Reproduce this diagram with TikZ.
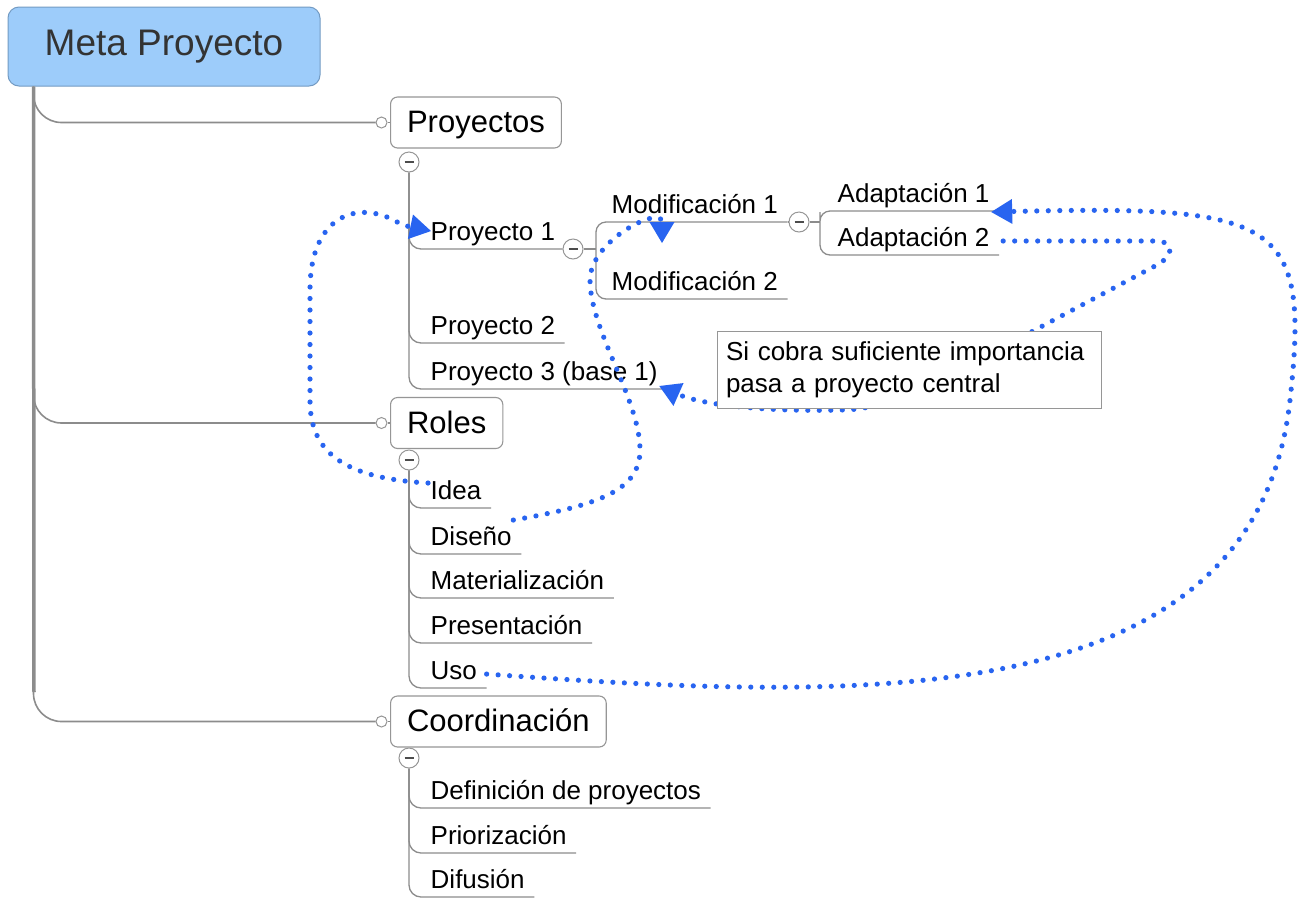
\documentclass[tikz,border=0pt]{standalone}
\usepackage{fontspec}
\setmainfont{Liberation Sans}
\usetikzlibrary{arrows.meta,calc}
\definecolor{linegray}{RGB}{140,140,140}
\definecolor{boxgray}{RGB}{150,150,150}
\definecolor{rootfill}{RGB}{157,204,250}
\definecolor{rootdraw}{RGB}{115,155,195}
\definecolor{dotblue}{RGB}{40,100,240}
\begin{document}
\begin{tikzpicture}[x=1pt,y=-1pt,
  trunk/.style={draw=linegray, line width=3.5pt},
  branch/.style={draw=linegray, line width=1.6pt, rounded corners=28pt},
  tree/.style={draw=linegray, line width=1.3pt, rounded corners=12pt},
  rootbox/.style={draw=rootdraw, fill=rootfill, line width=1pt, rounded corners=11pt, minimum width=312pt, minimum height=79pt, font=\fontsize{37}{40}\selectfont, text=black!80},
  topicbox/.style={draw=boxgray, fill=white, line width=1.1pt, rounded corners=7pt, minimum height=51pt, inner xsep=16.5pt, inner ysep=0pt, text height=23pt, text depth=3pt, font=\fontsize{31}{34}\selectfont},
  item/.style={inner xsep=9.5pt, inner ysep=0pt, text height=19pt, text depth=8.5pt, font=\fontsize{26}{30}\selectfont, anchor=south west},
  knob/.style={circle, draw=boxgray, fill=white, line width=1pt, minimum size=11pt, inner sep=0pt},
  fold/.style={circle, draw=boxgray, fill=white, line width=1pt, minimum size=20pt, inner sep=0pt, path picture={\draw[line width=1.3pt, black!70] ([xshift=-4.5pt]path picture bounding box.center) -- ([xshift=4.5pt]path picture bounding box.center);}},
  conn/.style={draw=dotblue, line width=5.2pt, line cap=round, dash pattern=on 0pt off 11.5pt},
  tip/.style={-{Triangle[length=21pt,width=25pt,line width=0pt]}},
  note/.style={draw=boxgray, fill=white, line width=1pt, minimum width=384pt, minimum height=77pt, align=left, text width=366pt, inner xsep=9pt, font=\fontsize{26}{32}\selectfont}
]
\useasboundingbox (0,0) rectangle (1308,898);
\fill[white] (0,0) rectangle (1308,898);

% root
\node[rootbox] (root) at (164,46.5) {Meta Proyecto};
\coordinate (tr) at ([xshift=26pt]root.south west);

% topics
\node[topicbox, anchor=west] (proy) at (390,122.5) {Proyectos};
\node[topicbox, anchor=west] (roles) at (390,423) {Roles};
\node[topicbox, anchor=west] (coord) at (390,721.5) {Coordinación};

\node[knob] (kp) at (381.5,122.5) {};
\node[knob] (kr) at (381.5,423) {};
\node[knob] (kc) at (381.5,721.5) {};

% trunk and branches
\draw[branch] (tr) |- (kp.west);
\draw[branch] (tr) |- (kr.west);
\draw[branch] (tr) |- (kc.west);
\draw[trunk] (tr) -- (34,692);
\draw[draw=linegray, line width=1.3pt] (kp.east) -- (proy.west);
\draw[draw=linegray, line width=1.3pt] (kr.east) -- (roles.west);
\draw[draw=linegray, line width=1.3pt] (kc.east) -- (coord.west);

% items
\node[item] (p1) at (421,249) {Proyecto 1};
\node[item] (p2) at (421,343) {Proyecto 2};
\node[item] (p3) at (421,389) {Proyecto 3 (base 1)};
\node[item] (m1) at (602,222) {Modificación 1};
\node[item] (m2) at (602,299) {Modificación 2};
\node[item] (a1) at (828,211) {Adaptación 1};
\node[item] (a2) at (828,255) {Adaptación 2};
\node[item] (idea) at (421,508) {Idea};
\node[item] (dis) at (421,554) {Diseño};
\node[item] (mat) at (421,598) {Materialización};
\node[item] (pres) at (421,643) {Presentación};
\node[item] (uso) at (421,688) {Uso};
\node[item] (def) at (421,808) {Definición de proyectos};
\node[item] (pri) at (421,853) {Priorización};
\node[item] (dif) at (421,897) {Difusión};

% fold buttons
\node[fold] (fp) at (409,162) {};
\node[fold] (fr) at (409,460) {};
\node[fold] (fc) at (409,758) {};
\node[fold] (cm) at (573,249) {};
\node[fold] (ca) at (799,222) {};

% tree lines
\draw[tree] (fp.south) |- (p1.south east) -- (cm.west);
\draw[tree] (fp.south) |- (p2.south east);
\draw[tree] (fp.south) |- (p3.south east);
\coordinate (mb) at (596,249);
\draw[tree] (cm.east) -- (mb);
\draw[tree, rounded corners=10pt] (m1.south east) -| (mb) |- (m2.south east);
\draw[tree] (m1.south east) -- (ca.west);
\coordinate (ab) at (820,222);
\draw[tree] (ca.east) -- (ab);
\draw[tree, rounded corners=10pt] (a1.south east) -| (ab) |- (a2.south east);
\draw[tree] (fr.south) |- (idea.south east);
\draw[tree] (fr.south) |- (dis.south east);
\draw[tree] (fr.south) |- (mat.south east);
\draw[tree] (fr.south) |- (pres.south east);
\draw[tree] (fr.south) |- (uso.south east);
\draw[tree] (fc.south) |- (def.south east);
\draw[tree] (fc.south) |- (pri.south east);
\draw[tree] (fc.south) |- (dif.south east);

% dotted connectors
\draw[conn, tip] ([shift={(7,-25)}]idea.south west) .. controls (340,478) and (310,450) .. (310,400) -- (310,290) .. controls (310,212) and (362,198) .. (402,225) -- ([shift={(10,-4)}]p1.west);
\draw[conn, tip] ([shift={(-8,-20)}]dis.east) .. controls (600,505) and (640,490) .. (640,450) .. controls (640,400) and (590,330) .. (590,280) .. controls (590,240) and (662,205) .. ([shift={(60,21)}]m1.south west);
\draw[conn, tip] ([shift={(4,-14)}]a2.south east) -- (1155,241) .. controls (1175,241) and (1175,256) .. (1155,266) -- (1035,330) .. controls (930,385) and (890,410) .. (840,410) .. controls (760,412) and (700,404) .. ([shift={(-8,-3)}]p3.south east);
\draw[conn, tip] (uso.east) .. controls (850,700) and (1255,720) .. (1290,400) .. controls (1310,220) and (1280,205) .. ([shift={(-8,1)}]a1.south east);

% callout
\node[note] (callout) at (909,370) {Si cobra suficiente importancia\\pasa a proyecto central};
\end{tikzpicture}
\end{document}
